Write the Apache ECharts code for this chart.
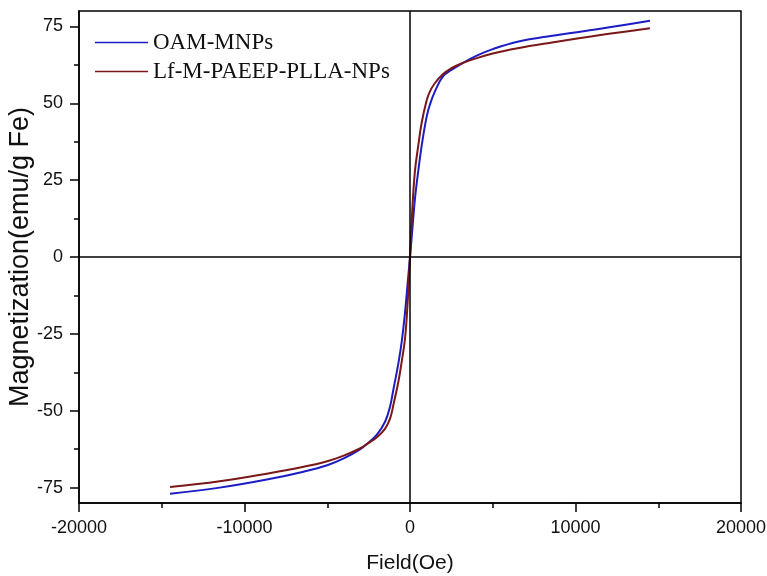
<!DOCTYPE html>
<html>
<head>
<meta charset="utf-8">
<script src="https://cdn.jsdelivr.net/npm/echarts@6/dist/echarts.min.js"></script>
<style>
	html, body { margin: 0; padding: 0; background: #fff; }
	#chart { width: 767px; height: 576px; }
</style>
</head>
<body>
<div id="chart"></div>
<script>
	// field values (Oe) shared by both curves
	var fieldOe = [-14500, -11500, -8500, -6500, -5000, -4000, -3000, -2500, -2000, -1500, -1200, -1000, -700, -500, -300, -150, 0,
		150, 300, 500, 700, 1000, 1200, 1500, 2000, 2500, 3000, 4000, 5000, 6500, 8500, 11500, 14500];
	// magnetization, emu/g Fe
	var oamMnps = [-77.0, -75.0, -72.2, -69.9, -67.7, -65.5, -62.5, -60.3, -57.8, -53.5, -48.5, -43.0, -34.5, -27.5, -18.0, -9.0, 0,
		9.5, 19.0, 28.0, 36.0, 45.5, 49.5, 53.8, 58.8, 60.8, 62.5, 65.4, 67.6, 70.0, 71.9, 74.2, 76.8];
	var lfNps = [-74.8, -72.9, -70.3, -68.3, -66.4, -64.6, -62.2, -60.5, -58.6, -55.8, -52.5, -48.0, -40.5, -34.0, -26.5, -15.5, 0,
		16.5, 28.0, 36.2, 43.5, 50.8, 53.8, 56.5, 59.5, 61.4, 62.7, 64.6, 66.2, 67.9, 69.7, 72.2, 74.4];
	var seriesNames = ['OAM-MNPs', 'Lf-M-PAEEP-PLLA-NPs'];
	var yMajor = [-75, -50, -25, 0, 25, 50, 75];
	var yMinor = [-62.5, -37.5, -12.5, 12.5, 37.5, 62.5];

	function pairs(ys) {
		return fieldOe.map(function(x, i) { return [x, ys[i]]; });
	}

	var myChart = echarts.init(document.getElementById('chart'));
	var axisFont = "'Liberation Sans', Arial, sans-serif";
	var option = {
		animation: false,
		grid: {
			left: 79, right: 26, top: 11, bottom: 73,
			outerBoundsMode: 'none', containLabel: false,
			show: true, borderColor: '#000', borderWidth: 1.5
		},
		legend: {
			left: 90, top: 26, orient: 'vertical',
			icon: 'rect', itemWidth: 53, itemHeight: 1.5, itemGap: 6,
			textStyle: { fontFamily: "'Liberation Serif', 'Times New Roman', serif", fontSize: 23, color: '#111', lineHeight: 23 },
			data: seriesNames
		},
		xAxis: {
			type: 'value', min: -20000, max: 20000, interval: 10000,
			name: 'Field(Oe)', nameLocation: 'middle', nameGap: 50,
			nameTextStyle: { fontFamily: axisFont, fontSize: 21, color: '#111' },
			axisLine: { onZero: false, lineStyle: { color: '#000', width: 1.5 } },
			axisTick: { inside: false, length: 9, lineStyle: { color: '#000', width: 1.5 } },
			minorTick: { show: true, splitNumber: 2, length: 5, lineStyle: { color: '#000', width: 1.5 } },
			axisLabel: { margin: 16, fontFamily: axisFont, fontSize: 18, color: '#111', formatter: function(v) { return String(v); } },
			splitLine: { show: false }
		},
		yAxis: [{
			type: 'value', min: -80, max: 80,
			name: 'Magnetization(emu/g Fe)', nameLocation: 'middle', nameGap: 45, nameMoveOverlap: false,
			nameTextStyle: { fontFamily: axisFont, fontSize: 27, color: '#111' },
			axisLine: { onZero: false, lineStyle: { color: '#000', width: 1.5 } },
			axisTick: { inside: false, length: 9, customValues: yMajor, lineStyle: { color: '#000', width: 1.5 } },
			axisLabel: { margin: 16, customValues: yMajor, fontFamily: axisFont, fontSize: 18, color: '#111' },
			splitLine: { show: false }
		}, {
			// minor ticks only
			type: 'value', min: -80, max: 80, position: 'left',
			axisLine: { show: false, onZero: false },
			axisTick: { inside: false, length: 5, customValues: yMinor, lineStyle: { color: '#000', width: 1.5 } },
			axisLabel: { show: false },
			splitLine: { show: false }
		}],
		series: [{
			name: seriesNames[0], type: 'line', smooth: 0.4, symbol: 'none',
			data: pairs(oamMnps),
			lineStyle: { color: '#1c1cc4', width: 2 },
			itemStyle: { color: '#1c1cc4' },
			markLine: {
				silent: true, symbol: ['none', 'none'],
				label: { show: false },
				lineStyle: { color: '#000', type: 'solid', width: 1.5 },
				data: [{ xAxis: 0 }, { yAxis: 0 }]
			}
		}, {
			name: seriesNames[1], type: 'line', smooth: 0.4, symbol: 'none',
			data: pairs(lfNps),
			lineStyle: { color: '#7a1717', width: 2 },
			itemStyle: { color: '#7a1717' }
		}]
	};
	myChart.setOption(option);
</script>
</body>
</html>
